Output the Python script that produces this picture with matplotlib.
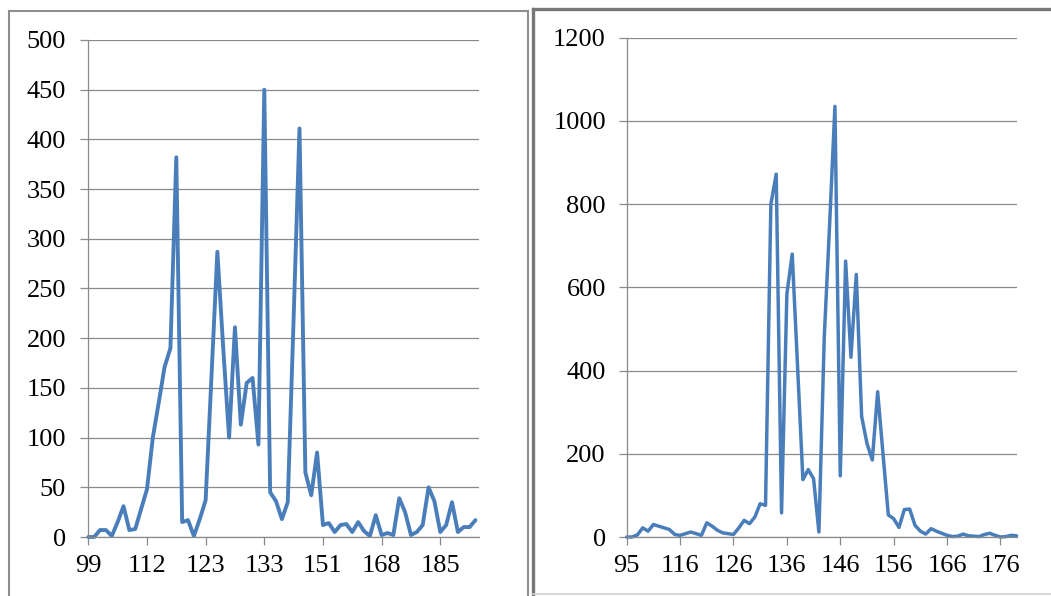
import numpy as np
import matplotlib.pyplot as plt
from matplotlib.lines import Line2D

plt.rcParams['font.family'] = ['Liberation Serif', 'DejaVu Serif']
plt.rcParams['font.size'] = 19

# left chart: values per category, labels on every 10th category
left_vals = [0, 0, 7, 7, 1, 15, 31, 7, 8, 28,
             48, 100, 135, 171, 190, 382, 15, 17, 1, 18,
             37, 162, 287, 190, 100, 211, 113, 155, 160, 93,
             450, 45, 36, 18, 35, 220, 411, 65, 42, 85,
             12, 14, 5, 12, 13, 5, 15, 6, 1, 22,
             2, 4, 2, 39, 25, 2, 5, 12, 50, 36,
             5, 12, 35, 5, 10, 10, 17]
left_labels = ['99', '112', '123', '133', '151', '168', '185']

# right chart
right_vals = [0, 0, 5, 22, 14, 30, 26, 22, 18, 6,
              4, 8, 12, 8, 4, 34, 26, 16, 10, 8,
              6, 22, 40, 32, 48, 80, 76, 800, 872, 58,
              584, 680, 410, 138, 162, 140, 12, 480, 750, 1035,
              147, 663, 432, 631, 290, 225, 185, 349, 200, 53,
              44, 23, 66, 67, 28, 14, 7, 20, 14, 9,
              4, 1, 2, 7, 3, 2, 1, 6, 9, 4,
              0, 1, 4, 3]
right_labels = ['95', '116', '126', '136', '146', '156', '166', '176']

blue = '#4a7ebb'
grid_c = '#8a8a8a'

W, H = 1051, 596
fig = plt.figure(figsize=(W / 100, H / 100), dpi=100)


def px_axes(x0, x1, ytop, ybot):
    return fig.add_axes([x0 / W, 1 - ybot / H, (x1 - x0) / W, (ybot - ytop) / H])


def style(ax, ymax, ystep, labels, xmax, ypad, lw):
    ax.set_ylim(0, ymax)
    ax.set_yticks(np.arange(0, ymax + 1, ystep))
    ax.set_xlim(0, xmax)
    ax.set_xticks(np.arange(len(labels)) * 10)
    ax.set_xticklabels(labels)
    for s in ['top', 'right']:
        ax.spines[s].set_visible(False)
    ax.spines['left'].set_color(grid_c)
    ax.spines['bottom'].set_color(grid_c)
    ax.spines['left'].set_linewidth(0.9)
    ax.spines['bottom'].set_linewidth(0.9)
    ax.grid(axis='y', color=grid_c, linewidth=0.9)
    ax.set_axisbelow(True)
    ax.tick_params(axis='y', length=6, width=0.9, color=grid_c, pad=ypad)
    ax.tick_params(axis='x', length=6, width=0.9, color=grid_c, pad=7)


ax1 = px_axes(88.3, 479, 40, 537)
ax1.plot(np.arange(len(left_vals)), left_vals, color=blue, lw=2.8,
         solid_joinstyle='round', solid_capstyle='round', clip_on=False)
style(ax1, 500, 50, left_labels, 66.6, 10, 2.8)

ax2 = px_axes(626.7, 1017, 37.7, 537)
ax2.plot(np.arange(len(right_vals)), right_vals, color=blue, lw=2.5,
         solid_joinstyle='round', solid_capstyle='round', clip_on=False)
style(ax2, 1200, 200, right_labels, 73.1, 9, 2.5)


def fline(xs, ys, c, lw):
    fig.add_artist(Line2D([x / W for x in xs], [1 - y / H for y in ys],
                          color=c, linewidth=lw, transform=fig.transFigure))


# panel frames
fline([9, 9], [11, 600], '#8e8e8e', 1.5)
fline([9, 528], [11, 11], '#8e8e8e', 1.5)
fline([528, 528], [11, 600], '#8e8e8e', 1.5)
fline([532.5, 532.5], [9, 594], '#777777', 2.4)
fline([532.5, 1060], [9, 9], '#777777', 2.4)
fline([532.5, 1060], [594, 594], '#d0d0d0', 1.2)

plt.savefig('out.png', dpi=100)
